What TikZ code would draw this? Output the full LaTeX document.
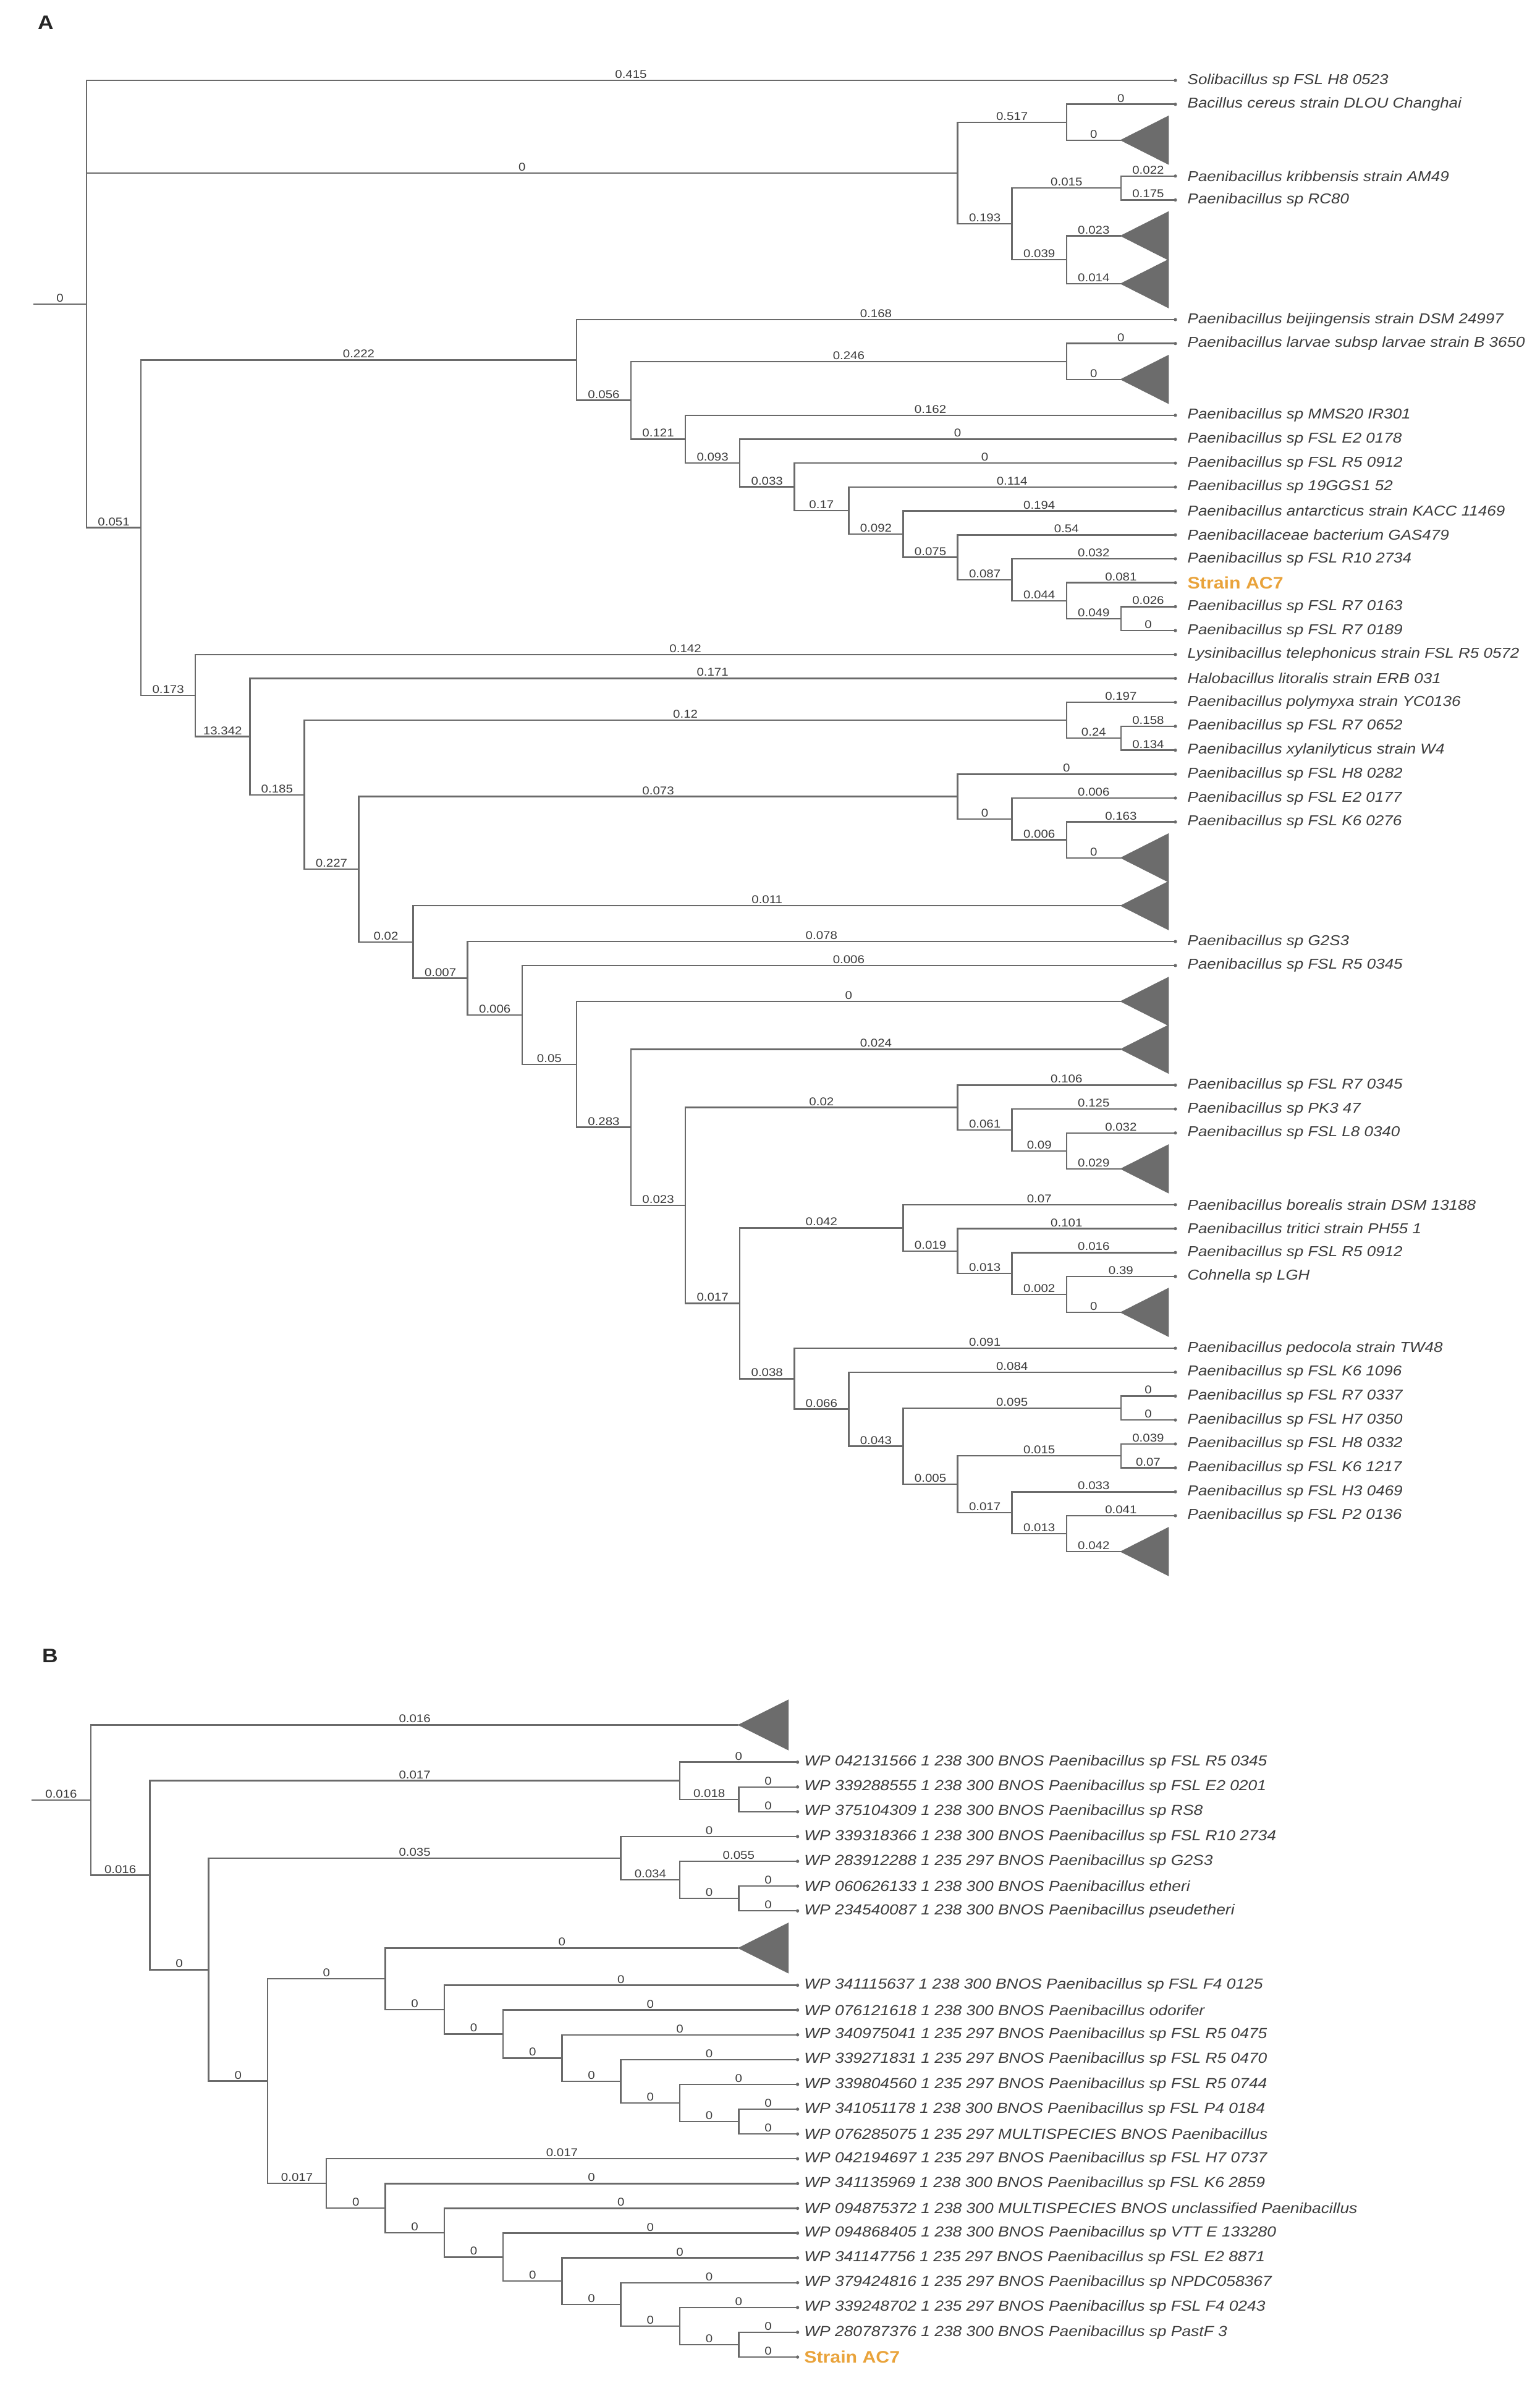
\documentclass[tikz,border=0pt]{standalone}
\usepackage{fontspec}
\setmainfont{Liberation Sans}
\newfontfamily\treefont[FakeStretch=1.12]{Liberation Sans}
\definecolor{branchgray}{HTML}{6A6A6A}
\definecolor{txtgray}{HTML}{3C3C3C}
\definecolor{cladegray}{HTML}{6C6C6C}
\definecolor{acorange}{HTML}{E9A33B}
\tikzset{
  branch/.style={draw=branchgray, line width=0.7pt},
  blab/.style={above, pos=0.75, inner sep=0.6pt, text=txtgray, font=\treefont\fontsize{5.2}{6}\selectfont},
  leaf/.style={anchor=west, inner sep=0pt, text=txtgray, font=\treefont\itshape\fontsize{6.6}{7}\selectfont},
  leafb/.style={leaf, font=\treefont\itshape\fontsize{6.7}{7}\selectfont},
  strainac/.style={anchor=west, inner sep=0pt, text=acorange, font=\treefont\bfseries\fontsize{7.7}{8}\selectfont},
  clade/.style={fill=cladegray, draw=cladegray, line width=0.4pt},
  panel/.style={inner sep=0pt, text=black!85, font=\treefont\bfseries\fontsize{9}{10}\selectfont},
}
\begin{document}
\begin{tikzpicture}
\useasboundingbox (0,0) rectangle (24.92,-38.55);

% 面板标记
\node[panel] (pa) at (0.74,-0.37) {A};
\node[panel] (pb) at (0.81,-26.79) {B};

% ===== A =====
\begin{scope}[shift={(1.40,-1.30)}, x=0.881cm, y=-0.387cm]
% 叶节点
\foreach \r/\txt in {0/Solibacillus sp FSL H8 0523, 1/Bacillus cereus strain DLOU Changhai,
    4/Paenibacillus kribbensis strain AM49, 5/Paenibacillus sp RC80,
    10/Paenibacillus beijingensis strain DSM 24997, 11/Paenibacillus larvae subsp larvae strain B 3650,
    14/Paenibacillus sp MMS20 IR301, 15/Paenibacillus sp FSL E2 0178, 16/Paenibacillus sp FSL R5 0912,
    17/Paenibacillus sp 19GGS1 52, 18/Paenibacillus antarcticus strain KACC 11469,
    19/Paenibacillaceae bacterium GAS479, 20/Paenibacillus sp FSL R10 2734,
    22/Paenibacillus sp FSL R7 0163, 23/Paenibacillus sp FSL R7 0189,
    24/Lysinibacillus telephonicus strain FSL R5 0572, 25/Halobacillus litoralis strain ERB 031,
    26/Paenibacillus polymyxa strain YC0136, 27/Paenibacillus sp FSL R7 0652,
    28/Paenibacillus xylanilyticus strain W4, 29/Paenibacillus sp FSL H8 0282,
    30/Paenibacillus sp FSL E2 0177, 31/Paenibacillus sp FSL K6 0276,
    36/Paenibacillus sp G2S3, 37/Paenibacillus sp FSL R5 0345,
    42/Paenibacillus sp FSL R7 0345, 43/Paenibacillus sp PK3 47, 44/Paenibacillus sp FSL L8 0340,
    47/Paenibacillus borealis strain DSM 13188, 48/Paenibacillus tritici strain PH55 1,
    49/Paenibacillus sp FSL R5 0912, 50/Cohnella sp LGH,
    53/Paenibacillus pedocola strain TW48, 54/Paenibacillus sp FSL K6 1096,
    55/Paenibacillus sp FSL R7 0337, 56/Paenibacillus sp FSL H7 0350,
    57/Paenibacillus sp FSL H8 0332, 58/Paenibacillus sp FSL K6 1217,
    59/Paenibacillus sp FSL H3 0469, 60/Paenibacillus sp FSL P2 0136}{
  \coordinate (a\r) at (20,\r);
  \node[leaf] (la\r) at ([xshift=0.19cm]a\r) {\txt};
}
\coordinate (a21) at (20,21);
\node[strainac] (la21) at ([xshift=0.19cm]a21) {Strain AC7};

% 折叠的分支
\foreach \r in {2,6,8,12,32,34,38,40,45,51,61}
  \coordinate (ta\r) at (19,\r+0.5);

% 内部节点
\coordinate (ra) at (-0.976,9.35);
\coordinate (n0) at (0,9.35);
\coordinate (ntop) at (16,3.875);
\coordinate (nb) at (18,1.75);
\coordinate (nc) at (17,6);
\coordinate (nd) at (19,4.5);
\coordinate (ne) at (18,7.5);
\coordinate (na) at (1,18.70);
\coordinate (nf) at (9,11.687);
\coordinate (nh) at (10,13.374);
\coordinate (ni) at (18,11.75);
\coordinate (nj) at (11,14.998);
\coordinate (nk) at (12,15.996);
\coordinate (nl) at (13,16.992);
\coordinate (nm) at (14,17.984);
\coordinate (nn) at (15,18.969);
\coordinate (no) at (16,19.9375);
\coordinate (np) at (17,20.875);
\coordinate (nq) at (18,21.75);
\coordinate (nr) at (19,22.5);
\coordinate (ng) at (2,25.716);
\coordinate (ns) at (3,27.432);
\coordinate (nt) at (4,29.864);
\coordinate (nu) at (18,26.75);
\coordinate (nw) at (19,27.5);
\coordinate (nv) at (5,32.977);
\coordinate (nx) at (16,29.9375);
\coordinate (nz) at (17,30.875);
\coordinate (naa) at (18,31.75);
\coordinate (ny) at (6,36.017);
\coordinate (nab) at (7,37.533);
\coordinate (nac) at (8,39.066);
\coordinate (nad) at (9,41.132);
\coordinate (nae) at (10,43.765);
\coordinate (naf) at (11,47.029);
\coordinate (nag) at (16,42.9375);
\coordinate (nai) at (17,43.875);
\coordinate (naj) at (18,44.75);
\coordinate (nah) at (12,51.121);
\coordinate (nak) at (15,47.969);
\coordinate (nam) at (16,48.9375);
\coordinate (nan) at (17,49.875);
\coordinate (nao) at (18,50.75);
\coordinate (nal) at (13,54.273);
\coordinate (nap) at (14,55.547);
\coordinate (naq) at (15,57.094);
\coordinate (nar) at (19,55.5);
\coordinate (nas) at (16,58.6875);
\coordinate (nat) at (19,57.5);
\coordinate (nau) at (17,59.875);
\coordinate (nav) at (18,60.75);

% 分支与长度
\draw[branch] (ra) -- (n0) node[blab, pos=0.5] {0};
\foreach \p/\c/\v in {n0/a0/0.415, n0/ntop/0, n0/na/0.051,
    ntop/nb/0.517, ntop/nc/0.193, nb/a1/0, nb/ta2/0,
    nc/nd/0.015, nc/ne/0.039, nd/a4/0.022, nd/a5/0.175, ne/ta6/0.023, ne/ta8/0.014,
    na/nf/0.222, na/ng/0.173, nf/a10/0.168, nf/nh/0.056,
    nh/ni/0.246, nh/nj/0.121, ni/a11/0, ni/ta12/0,
    nj/a14/0.162, nj/nk/0.093, nk/a15/0, nk/nl/0.033, nl/a16/0, nl/nm/0.17,
    nm/a17/0.114, nm/nn/0.092, nn/a18/0.194, nn/no/0.075, no/a19/0.54, no/np/0.087,
    np/a20/0.032, np/nq/0.044, nq/a21/0.081, nq/nr/0.049, nr/a22/0.026, nr/a23/0,
    ng/a24/0.142, ng/ns/13.342, ns/a25/0.171, ns/nt/0.185,
    nt/nu/0.12, nt/nv/0.227, nu/a26/0.197, nu/nw/0.24, nw/a27/0.158, nw/a28/0.134,
    nv/nx/0.073, nv/ny/0.02, nx/a29/0, nx/nz/0, nz/a30/0.006, nz/naa/0.006,
    naa/a31/0.163, naa/ta32/0,
    ny/ta34/0.011, ny/nab/0.007, nab/a36/0.078, nab/nac/0.006,
    nac/a37/0.006, nac/nad/0.05, nad/ta38/0, nad/nae/0.283,
    nae/ta40/0.024, nae/naf/0.023, naf/nag/0.02, naf/nah/0.017,
    nag/a42/0.106, nag/nai/0.061, nai/a43/0.125, nai/naj/0.09, naj/a44/0.032, naj/ta45/0.029,
    nah/nak/0.042, nah/nal/0.038, nak/a47/0.07, nak/nam/0.019,
    nam/a48/0.101, nam/nan/0.013, nan/a49/0.016, nan/nao/0.002, nao/a50/0.39, nao/ta51/0,
    nal/a53/0.091, nal/nap/0.066, nap/a54/0.084, nap/naq/0.043,
    naq/nar/0.095, naq/nas/0.005, nar/a55/0, nar/a56/0,
    nas/nat/0.015, nas/nau/0.017, nat/a57/0.039, nat/a58/0.07,
    nau/a59/0.033, nau/nav/0.013, nav/a60/0.041, nav/ta61/0.042}
  \draw[branch] (\p) |- (\c) node[blab] {\v};

% 三角形与端点
\foreach \r in {2,6,8,12,32,34,38,40,45,51,61}
  \filldraw[clade] (ta\r) -- ++(0.87,-1) -- ++(0,2) -- cycle;
\foreach \r in {0,1,4,5,10,11,14,15,...,31,36,37,42,43,44,47,48,49,50,53,54,...,60}
  \fill[branchgray] (a\r) circle (0.75pt);
\end{scope}

% ===== B =====
\begin{scope}[shift={(1.47,-28.506)}, x=0.953cm, y=-0.401cm]
% 叶节点
\foreach \r/\txt in {0/WP 042131566 1 238 300 BNOS Paenibacillus sp FSL R5 0345,
    1/WP 339288555 1 238 300 BNOS Paenibacillus sp FSL E2 0201,
    2/WP 375104309 1 238 300 BNOS Paenibacillus sp RS8,
    3/WP 339318366 1 238 300 BNOS Paenibacillus sp FSL R10 2734,
    4/WP 283912288 1 235 297 BNOS Paenibacillus sp G2S3,
    5/WP 060626133 1 238 300 BNOS Paenibacillus etheri,
    6/WP 234540087 1 238 300 BNOS Paenibacillus pseudetheri,
    9/WP 341115637 1 238 300 BNOS Paenibacillus sp FSL F4 0125,
    10/WP 076121618 1 238 300 BNOS Paenibacillus odorifer,
    11/WP 340975041 1 235 297 BNOS Paenibacillus sp FSL R5 0475,
    12/WP 339271831 1 235 297 BNOS Paenibacillus sp FSL R5 0470,
    13/WP 339804560 1 235 297 BNOS Paenibacillus sp FSL R5 0744,
    14/WP 341051178 1 238 300 BNOS Paenibacillus sp FSL P4 0184,
    15/WP 076285075 1 235 297 MULTISPECIES BNOS Paenibacillus,
    16/WP 042194697 1 235 297 BNOS Paenibacillus sp FSL H7 0737,
    17/WP 341135969 1 238 300 BNOS Paenibacillus sp FSL K6 2859,
    18/WP 094875372 1 238 300 MULTISPECIES BNOS unclassified Paenibacillus,
    19/WP 094868405 1 238 300 BNOS Paenibacillus sp VTT E 133280,
    20/WP 341147756 1 235 297 BNOS Paenibacillus sp FSL E2 8871,
    21/WP 379424816 1 235 297 BNOS Paenibacillus sp NPDC058367,
    22/WP 339248702 1 235 297 BNOS Paenibacillus sp FSL F4 0243,
    23/WP 280787376 1 238 300 BNOS Paenibacillus sp PastF 3}{
  \coordinate (b\r) at (12,\r);
  \node[leafb] (lb\r) at ([xshift=0.10cm]b\r) {\txt};
}
\coordinate (b24) at (12,24);
\node[strainac] (lb24) at ([xshift=0.10cm]b24) {Strain AC7};

% 折叠的分支
\coordinate (tbt) at (11,-1.5);
\coordinate (tb7) at (11,7.5);

% 内部节点
\coordinate (rb) at (-1.007,1.53);
\coordinate (m0) at (0,1.53);
\coordinate (m1) at (1,4.561);
\coordinate (m2) at (10,0.75);
\coordinate (m4) at (11,1.5);
\coordinate (m3) at (2,8.372);
\coordinate (m5) at (9,3.875);
\coordinate (m7) at (10,4.75);
\coordinate (m8) at (11,5.5);
\coordinate (m6) at (3,12.869);
\coordinate (m9) at (5,8.742);
\coordinate (m11) at (6,9.984);
\coordinate (m12) at (7,10.969);
\coordinate (m13) at (8,11.9375);
\coordinate (m14) at (9,12.875);
\coordinate (m15) at (10,13.75);
\coordinate (m16) at (11,14.5);
\coordinate (m10) at (4,16.996);
\coordinate (m17) at (5,17.992);
\coordinate (m18) at (6,18.984);
\coordinate (m19) at (7,19.969);
\coordinate (m20) at (8,20.9375);
\coordinate (m21) at (9,21.875);
\coordinate (m22) at (10,22.75);
\coordinate (m23) at (11,23.5);

% 分支与长度
\draw[branch] (rb) -- (m0) node[blab, pos=0.5] {0.016};
\foreach \p/\c/\v in {m0/tbt/0.016, m0/m1/0.016, m1/m2/0.017, m1/m3/0,
    m2/b0/0, m2/m4/0.018, m4/b1/0, m4/b2/0,
    m3/m5/0.035, m3/m6/0, m5/b3/0, m5/m7/0.034, m7/b4/0.055, m7/m8/0, m8/b5/0, m8/b6/0,
    m6/m9/0, m6/m10/0.017, m9/tb7/0, m9/m11/0,
    m11/b9/0, m11/m12/0, m12/b10/0, m12/m13/0, m13/b11/0, m13/m14/0,
    m14/b12/0, m14/m15/0, m15/b13/0, m15/m16/0, m16/b14/0, m16/b15/0,
    m10/b16/0.017, m10/m17/0, m17/b17/0, m17/m18/0, m18/b18/0, m18/m19/0,
    m19/b19/0, m19/m20/0, m20/b20/0, m20/m21/0, m21/b21/0, m21/m22/0,
    m22/b22/0, m22/m23/0, m23/b23/0, m23/b24/0}
  \draw[branch] (\p) |- (\c) node[blab] {\v};

% 三角形与端点
\foreach \c in {tbt,tb7}
  \filldraw[clade] (\c) -- ++(0.84,-1) -- ++(0,2) -- cycle;
\foreach \r in {0,1,...,6,9,10,...,24}
  \fill[branchgray] (b\r) circle (0.75pt);
\end{scope}
\end{tikzpicture}
\end{document}
